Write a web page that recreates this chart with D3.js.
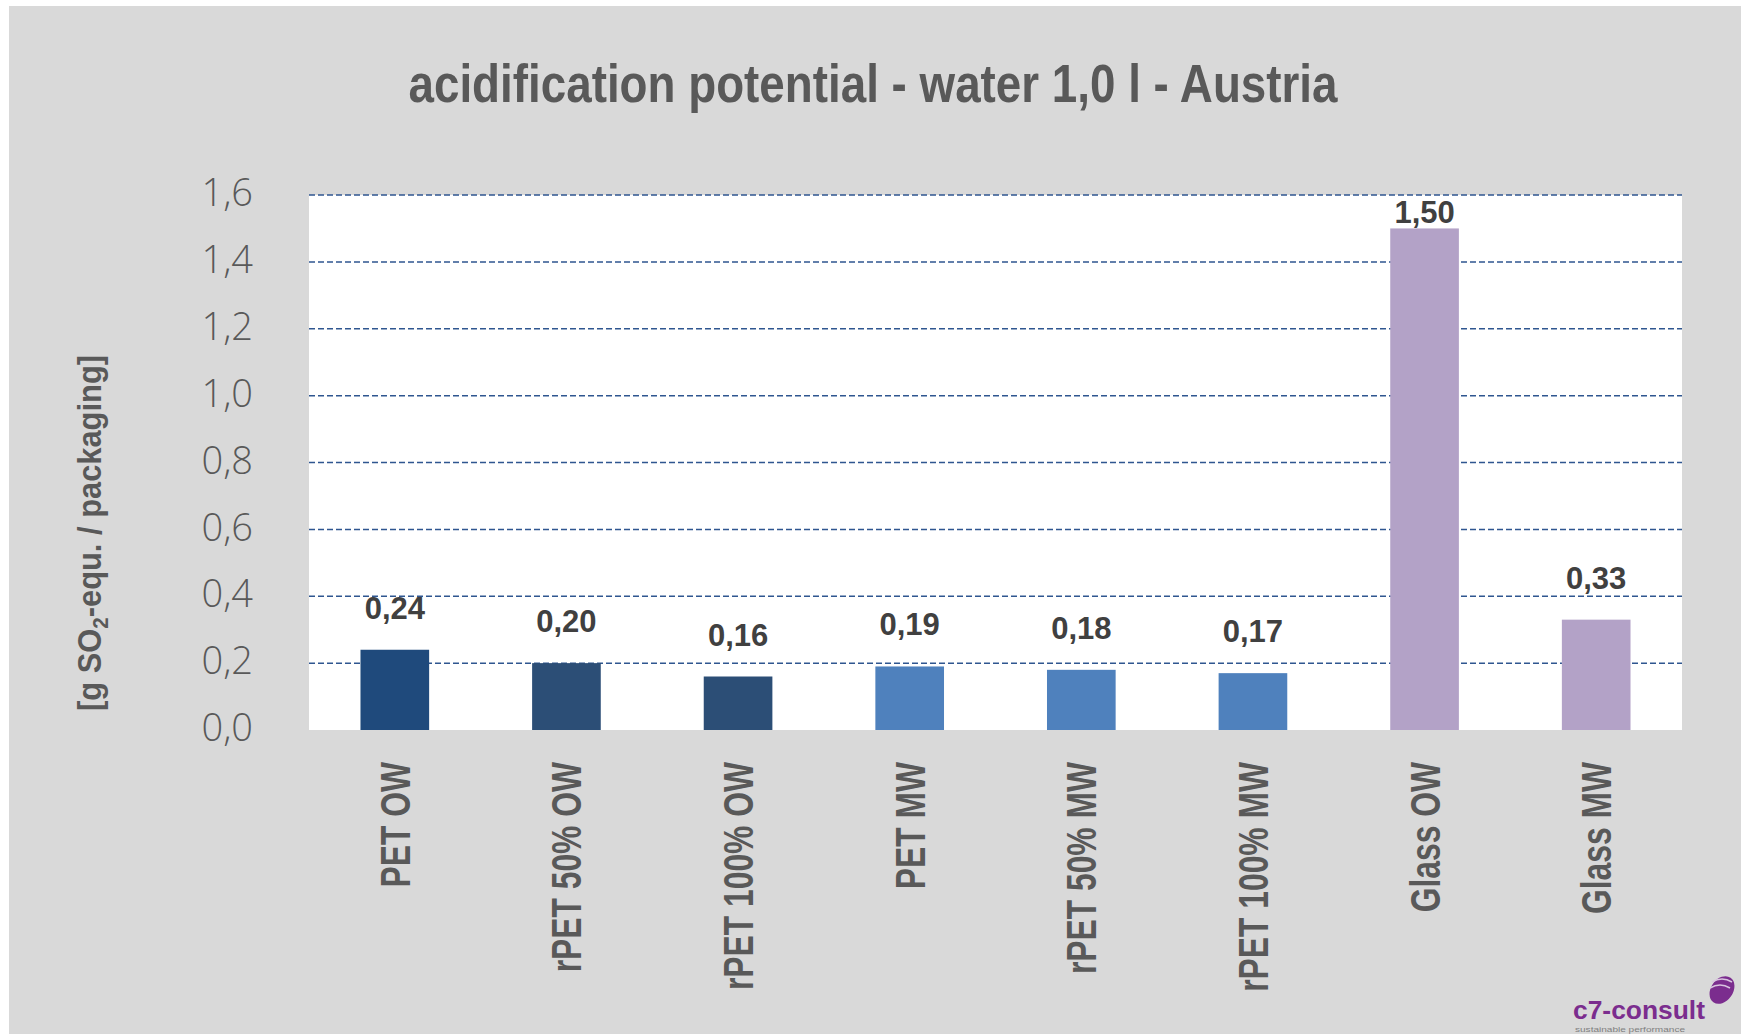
<!DOCTYPE html>
<html>
<head>
<meta charset="utf-8">
<script src="https://cdnjs.cloudflare.com/ajax/libs/d3/7.8.5/d3.min.js"></script>
<style>
  body { margin: 0; background: #fff; }
  svg { display: block; }
</style>
</head>
<body>
<div class="svg-container"></div>
<script>
// chart data
var categories = ["PET OW", "rPET 50% OW", "rPET 100% OW", "PET MW", "rPET 50% MW", "rPET 100% MW", "Glass OW", "Glass MW"];
var values = [0.24, 0.20, 0.16, 0.19, 0.18, 0.17, 1.50, 0.33];
var barColors = ["#1f4a7c", "#2c4e76", "#2c4e76", "#4f81bd", "#4f81bd", "#4f81bd", "#b3a2c7", "#b3a2c7"];
var yTicks = [0, 0.2, 0.4, 0.6, 0.8, 1.0, 1.2, 1.4, 1.6];

var titleText = "acidification potential - water 1,0 l - Austria";

var w = 1741, h = 1034;
var margin = {left: 309, right: 59, top: 195, bottom: 304};

var svg = d3.select(".svg-container")
    .append("svg")
    .attr("width", w)
    .attr("height", h);

// grey chart area
svg.append("rect")
    .attr("x", 9).attr("y", 6)
    .attr("width", w - 9).attr("height", h - 6)
    .attr("fill", "#d9d9d9");

var x = d3.scaleBand()
    .domain(categories)
    .range([margin.left, w - margin.right])
    .paddingInner(0.6)
    .paddingOuter(0.3);

var y = d3.scaleLinear()
    .domain([0, 1.6])
    .range([h - margin.bottom, margin.top]);

// plot area
svg.append("rect")
    .attr("x", margin.left)
    .attr("y", y(1.6))
    .attr("width", w - margin.right - margin.left)
    .attr("height", y(0) - y(1.6))
    .attr("fill", "#ffffff");

// title
svg.append("text")
    .attr("x", 873)
    .attr("y", 102)
    .attr("text-anchor", "middle")
    .attr("font-family", "'Liberation Sans', Arial, sans-serif")
    .attr("font-weight", "bold")
    .attr("font-size", 53)
    .attr("fill", "#595959")
    .attr("textLength", 929)
    .attr("lengthAdjust", "spacingAndGlyphs")
    .text(titleText);

// gridlines
svg.append("g")
    .selectAll("line")
    .data(yTicks.filter(function(d) { return d > 0; }))
    .enter().append("line")
    .attr("x1", margin.left)
    .attr("x2", w - margin.right)
    .attr("y1", function(d) { return y(d); })
    .attr("y2", function(d) { return y(d); })
    .attr("stroke", "#2f5690")
    .attr("stroke-width", 1.5)
    .attr("stroke-dasharray", "6,3");

// y axis labels
var yAxis = d3.axisLeft(y)
    .tickValues(yTicks)
    .tickSize(0)
    .tickPadding(0)
    .tickFormat(function(d) { return d3.format(".1f")(d).replace(".", ","); });

var yAxisG = svg.append("g")
    .attr("transform", "translate(253,0)")
    .call(yAxis);
yAxisG.select(".domain").remove();
yAxisG.selectAll("text")
    .attr("font-family", "'Open Sans', 'Liberation Sans', sans-serif")
    .attr("font-weight", 300)
    .attr("font-size", 38)
    .attr("fill", "#595959")
    .attr("dy", "0.28em");

// y axis title
var yTitle = svg.append("text")
    .attr("transform", "translate(101,533) rotate(-90)")
    .attr("text-anchor", "middle")
    .attr("font-family", "'Liberation Sans', Arial, sans-serif")
    .attr("font-weight", "bold")
    .attr("font-size", 33)
    .attr("fill", "#595959")
    .attr("textLength", 356)
    .attr("lengthAdjust", "spacingAndGlyphs");
yTitle.append("tspan").text("[g SO");
yTitle.append("tspan").attr("font-size", 22).attr("dy", 7).text("2");
yTitle.append("tspan").attr("dy", -7).text("-equ. / packaging]");

// bars
svg.append("g")
    .selectAll("rect")
    .data(values)
    .enter().append("rect")
    .attr("x", function(d, i) { return x(categories[i]); })
    .attr("y", function(d) { return y(d); })
    .attr("width", x.bandwidth())
    .attr("height", function(d) { return y(0) - y(d); })
    .attr("fill", function(d, i) { return barColors[i]; });

// value labels
svg.append("g")
    .selectAll("text")
    .data(values)
    .enter().append("text")
    .attr("x", function(d, i) { return x(categories[i]) + x.bandwidth() / 2; })
    .attr("y", function(d) { return Math.max(y(d) - 31, y(1.6) + 28); })
    .attr("text-anchor", "middle")
    .attr("font-family", "'Liberation Sans', Arial, sans-serif")
    .attr("font-weight", "bold")
    .attr("font-size", 31)
    .attr("fill", "#404040")
    .text(function(d) { return d3.format(".2f")(d).replace(".", ","); });

// category labels, rotated
svg.append("g")
    .selectAll("text")
    .data(categories)
    .enter().append("text")
    .attr("transform", function(d) {
        return "translate(" + (x(d) + x.bandwidth() / 2 + 15) + "," + 762 + ") rotate(-90) scale(0.74,1)";
    })
    .attr("text-anchor", "end")
    .attr("font-family", "'Liberation Sans', Arial, sans-serif")
    .attr("font-weight", "bold")
    .attr("font-size", 43)
    .attr("fill", "#595959")
    .text(function(d) { return d; });

// logo
var logo = svg.append("g");
logo.append("text")
    .attr("x", 1573).attr("y", 1019)
    .attr("font-family", "'Liberation Sans', Arial, sans-serif")
    .attr("font-weight", "bold")
    .attr("font-size", 25)
    .attr("fill", "#7b2d8e")
    .attr("textLength", 132)
    .attr("lengthAdjust", "spacingAndGlyphs")
    .text("c7-consult");
logo.append("text")
    .attr("x", 1575).attr("y", 1032)
    .attr("font-family", "'Liberation Sans', Arial, sans-serif")
    .attr("font-size", 8)
    .attr("fill", "#7f7f7f")
    .attr("textLength", 110)
    .attr("lengthAdjust", "spacingAndGlyphs")
    .text("sustainable performance");
logo.append("ellipse")
    .attr("cx", 1722).attr("cy", 990)
    .attr("rx", 11).attr("ry", 15)
    .attr("transform", "rotate(35,1722,990)")
    .attr("fill", "#7b2d8e");
logo.append("path")
    .attr("d", "M1712,982 Q1722,976 1732,982 M1710,988 Q1720,982 1730,988")
    .attr("stroke", "#d9c4e0")
    .attr("stroke-width", 1.5)
    .attr("fill", "none");
</script>
</body>
</html>
